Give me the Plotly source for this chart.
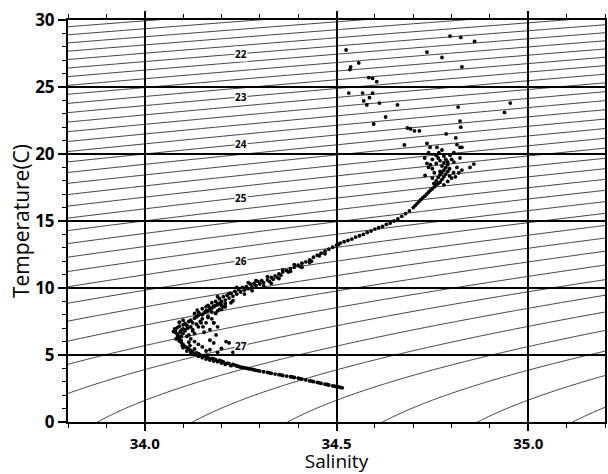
import numpy as np
import plotly.graph_objects as go

# ---------------- data ----------------
deep_s = [34.515, 34.51, 34.505, 34.50, 34.495, 34.49, 34.48, 34.475, 34.47, 34.46,
          34.455, 34.45, 34.44, 34.435, 34.43, 34.42, 34.41, 34.405, 34.40, 34.39,
          34.385, 34.38, 34.37, 34.36, 34.355, 34.35, 34.34, 34.33, 34.325, 34.32,
          34.31, 34.30, 34.295, 34.29, 34.285, 34.28, 34.275, 34.27, 34.265, 34.26,
          34.255, 34.25, 34.245, 34.24]
deep_t = [2.55, 2.58, 2.62, 2.63, 2.68, 2.70, 2.76, 2.80, 2.82, 2.88,
          2.92, 2.95, 3.01, 3.05, 3.07, 3.14, 3.20, 3.24, 3.28, 3.32,
          3.36, 3.38, 3.43, 3.47, 3.52, 3.53, 3.58, 3.63, 3.67, 3.70,
          3.75, 3.80, 3.84, 3.86, 3.90, 3.93, 3.97, 3.98, 4.02, 4.04,
          4.08, 4.10, 4.14, 4.18]

bend_s = [34.235, 34.23, 34.225, 34.22, 34.215, 34.21, 34.205, 34.20, 34.20, 34.195,
          34.19, 34.185, 34.18, 34.18, 34.175, 34.17, 34.165, 34.16, 34.16, 34.155,
          34.15, 34.145, 34.14, 34.14, 34.135, 34.13, 34.125, 34.12, 34.12, 34.115,
          34.11, 34.11, 34.105, 34.10, 34.10, 34.095, 34.095, 34.09, 34.09, 34.088,
          34.085, 34.085, 34.08, 34.08, 34.078, 34.085, 34.09, 34.095, 34.10, 34.10,
          34.105, 34.11, 34.11, 34.115, 34.12, 34.12, 34.125, 34.13, 34.13, 34.135,
          34.14, 34.14, 34.145, 34.15, 34.15, 34.155, 34.16, 34.16, 34.165, 34.17,
          34.17, 34.175, 34.18, 34.18, 34.185, 34.19, 34.19, 34.195, 34.20, 34.20,
          34.18, 34.186, 34.212, 34.22, 34.18, 34.155, 34.147, 34.137, 34.16, 34.19,
          34.17, 34.13, 34.14, 34.125, 34.20, 34.23, 34.16, 34.17, 34.105, 34.115,
          34.095, 34.10, 34.12, 34.13, 34.15, 34.165, 34.175, 34.19, 34.21, 34.225,
          34.075, 34.082, 34.092, 34.098, 34.105, 34.112, 34.118, 34.125, 34.135, 34.145,
          34.152, 34.165, 34.175, 34.185, 34.195, 34.205, 34.09, 34.10, 34.115, 34.13]
bend_t = [4.25, 4.30, 4.20, 4.35, 4.40, 4.30, 4.48, 4.55, 4.40, 4.60,
          4.50, 4.65, 4.70, 4.55, 4.75, 4.62, 4.82, 4.90, 4.70, 4.95,
          4.80, 5.00, 5.10, 4.90, 5.15, 5.05, 5.25, 5.35, 5.15, 5.45,
          5.55, 5.30, 5.65, 5.80, 5.55, 5.95, 6.10, 6.25, 6.05, 6.40,
          6.55, 6.30, 6.70, 6.85, 6.95, 7.05, 7.15, 6.85, 7.25, 6.60,
          7.35, 7.20, 6.40, 7.50, 7.60, 6.20, 7.40, 7.75, 6.00, 7.85,
          7.95, 5.80, 8.05, 7.70, 5.60, 8.15, 8.25, 7.40, 8.30, 8.40,
          5.40, 8.50, 8.60, 7.40, 8.70, 8.75, 5.20, 8.85, 8.95, 8.40,
          7.40, 6.50, 6.00, 5.90, 5.90, 6.70, 7.40, 8.35, 8.60, 7.10,
          6.90, 6.60, 7.10, 6.90, 5.50, 5.20, 5.30, 6.10, 6.80, 6.50,
          6.40, 7.60, 7.10, 8.10, 8.00, 7.90, 8.20, 8.30, 8.60, 8.90,
          6.75, 6.20, 6.70, 5.70, 6.90, 7.00, 5.70, 6.80, 7.30, 7.50,
          7.10, 7.80, 7.70, 8.10, 8.40, 8.60, 7.45, 6.95, 5.95, 5.45]

upper_s = [34.14, 34.15, 34.16, 34.165, 34.17, 34.175, 34.18, 34.185, 34.19, 34.195,
           34.20, 34.205, 34.21, 34.215, 34.22, 34.225, 34.23, 34.235, 34.24, 34.245,
           34.25, 34.255, 34.26, 34.265, 34.27, 34.275, 34.28, 34.285, 34.29, 34.295,
           34.30, 34.305, 34.31, 34.32, 34.325, 34.33, 34.335, 34.34, 34.345, 34.35,
           34.355, 34.36, 34.37, 34.375, 34.38, 34.39, 34.40, 34.405, 34.41, 34.42,
           34.43, 34.435, 34.44, 34.45, 34.455, 34.46, 34.47, 34.48, 34.49, 34.50,
           34.505, 34.51, 34.52, 34.53, 34.54, 34.55, 34.56, 34.57, 34.58, 34.59,
           34.60, 34.61, 34.62, 34.63, 34.64, 34.65, 34.66, 34.67, 34.68, 34.69,
           34.70, 34.705, 34.71, 34.715, 34.72, 34.725, 34.73, 34.735, 34.74, 34.745,
           34.75, 34.755, 34.76,
           34.19, 34.21, 34.23, 34.24, 34.26, 34.28, 34.29, 34.31, 34.33, 34.35,
           34.36, 34.38, 34.39, 34.41, 34.43, 34.47, 34.20, 34.22, 34.27, 34.32]
upper_t = [8.20, 8.45, 8.30, 8.70, 8.55, 8.90, 8.65, 9.00, 8.80, 9.20,
           9.00, 9.35, 9.10, 9.45, 9.25, 9.60, 9.40, 9.75, 9.55, 9.90,
           9.70, 10.05, 9.85, 10.10, 9.95, 10.30, 10.10, 10.35, 10.20, 10.50,
           10.30, 10.55, 10.40, 10.60, 10.50, 10.80, 10.65, 10.90, 10.80, 11.05,
           10.95, 11.20, 11.30, 11.20, 11.45, 11.55, 11.70, 11.60, 11.85, 11.95,
           12.10, 12.00, 12.30, 12.45, 12.40, 12.60, 12.75, 12.90, 13.05, 13.20,
           13.25, 13.35, 13.45, 13.55, 13.65, 13.80, 13.90, 14.00, 14.15, 14.25,
           14.40, 14.50, 14.60, 14.75, 14.85, 15.00, 15.15, 15.35, 15.55, 15.75,
           16.00, 16.15, 16.30, 16.45, 16.60, 16.75, 16.85, 17.00, 17.15, 17.30,
           17.40, 17.55, 17.70,
           9.35, 8.85, 9.05, 10.05, 9.55, 9.80, 10.55, 10.15, 10.35, 10.70,
           11.35, 11.25, 11.75, 11.55, 11.90, 12.55, 8.70, 9.60, 10.40, 10.85]

cluster_s = [34.765, 34.77, 34.76, 34.775, 34.765, 34.78, 34.77, 34.785, 34.775, 34.79,
             34.78, 34.795, 34.785, 34.775, 34.79, 34.78, 34.77, 34.785, 34.765, 34.78,
             34.755, 34.75, 34.745, 34.74, 34.736, 34.731, 34.754, 34.80, 34.805, 34.806,
             34.814, 34.822, 34.827, 34.819, 34.81, 34.848, 34.858, 34.736, 34.744, 34.762,
             34.767, 34.814, 34.822, 34.796, 34.806, 34.75, 34.76, 34.79, 34.77, 34.795,
             34.79, 34.78, 34.75, 34.76, 34.80, 34.775, 34.73, 34.74]
cluster_t = [17.8, 17.9, 18.0, 18.1, 18.25, 18.3, 18.45, 18.5, 18.6, 18.7,
             18.8, 18.9, 19.0, 19.1, 19.2, 19.35, 19.5, 19.6, 19.7, 19.85,
             18.6, 18.9, 19.2, 19.0, 19.3, 18.4, 17.8, 18.2, 18.6, 19.4,
             19.0, 19.7, 18.8, 18.6, 18.3, 19.0, 19.25, 20.8, 20.5, 20.5,
             20.1, 20.7, 20.5, 19.9, 20.1, 19.6, 19.9, 19.4, 18.7, 18.35,
             17.95, 17.7, 18.2, 19.3, 19.6, 20.3, 19.7, 20.1]

surface_s = [34.525, 34.537, 34.535, 34.558, 34.584, 34.594, 34.605, 34.736, 34.775, 34.796,
             34.824, 34.860, 34.827, 34.532, 34.568, 34.594, 34.586, 34.571, 34.579, 34.612,
             34.659, 34.628, 34.597, 34.685, 34.693, 34.703, 34.716, 34.786, 34.677, 34.817,
             34.822, 34.824, 34.811, 34.827, 34.938, 34.953]
surface_t = [27.76, 26.5, 26.3, 26.8, 25.7, 25.65, 25.4, 27.6, 27.2, 28.8,
             28.7, 28.4, 26.5, 24.55, 24.55, 24.55, 24.2, 23.96, 23.66, 23.8,
             23.66, 22.76, 22.24, 21.94, 21.87, 21.72, 21.72, 21.5, 20.67, 23.5,
             22.46, 22.0, 21.2, 20.5, 23.1, 23.8]

x_ticks = [34.0, 34.5, 35.0]
x_ticktext = ["34.0", "34.5", "35.0"]
y_ticks = [0, 5, 10, 15, 20, 25, 30]
sigma_labels = [22, 23, 24, 25, 26, 27]

# ---------------- sigma-t background (UNESCO EOS-80, p = 0) ----------------
def sigma_t(S, T):
    rw = (999.842594 + 6.793952e-2 * T - 9.095290e-3 * T**2 + 1.001685e-4 * T**3
          - 1.120083e-6 * T**4 + 6.536332e-9 * T**5)
    A = 0.824493 - 4.0899e-3 * T + 7.6438e-5 * T**2 - 8.2467e-7 * T**3 + 5.3875e-9 * T**4
    B = -5.72466e-3 + 1.0227e-4 * T - 1.6546e-6 * T**2
    C = 4.8314e-4
    return rw + A * S + B * S**1.5 + C * S**2 - 1000.0

sg = np.linspace(33.7, 35.3, 161)
tg = np.linspace(-0.5, 30.5, 311)
SS, TT = np.meshgrid(sg, tg)
Z = sigma_t(SS, TT)

fig = go.Figure()
fig.add_trace(go.Contour(
    x=sg, y=tg, z=Z, autocontour=False,
    contours=dict(start=20.0, end=29.0, size=0.2, coloring="lines"),
    colorscale=[[0, "black"], [1, "black"]],
    line=dict(width=0.75),
    showscale=False, hoverinfo="skip",
))

all_s = deep_s + bend_s + upper_s + cluster_s + surface_s
all_t = deep_t + bend_t + upper_t + cluster_t + surface_t
fig.add_trace(go.Scatter(
    x=all_s, y=all_t, mode="markers",
    marker=dict(color="black", size=3.8),
    hoverinfo="skip",
))

# labels for integer sigma-t lines, placed on the line at S = 34.25
label_s = 34.25
t_line = np.linspace(4.5, 30, 2000)
sig_line = sigma_t(label_s, t_line)
for k in sigma_labels:
    tk = float(np.interp(k, sig_line[::-1], t_line[::-1]))
    fig.add_annotation(x=label_s, y=tk, text=str(k), showarrow=False,
                       font=dict(family="Open Sans", size=10, color="black", weight="bold"),
                       bgcolor="white", borderpad=0)

font_family = "Open Sans"
fig.update_layout(
    width=608, height=474,
    margin=dict(l=68, r=1, t=20, b=52),
    plot_bgcolor="white", paper_bgcolor="white",
    showlegend=False,
    font=dict(family=font_family, color="black"),
)
fig.update_xaxes(
    range=[33.8, 35.2], tickvals=x_ticks, ticktext=x_ticktext,
    ticks="outside", ticklen=7, tickwidth=2, tickcolor="black",
    showgrid=True, gridcolor="black", gridwidth=2,
    showline=True, linecolor="black", linewidth=2, mirror="ticks",
    zeroline=False,
    minor=dict(dtick=0.1, tick0=33.8, ticks="outside", ticklen=4, tickwidth=1,
               tickcolor="black", showgrid=False),
    tickfont=dict(size=15, weight="bold"),
    title=dict(text="Salinity", font=dict(size=19, weight=500), standoff=6),
)
fig.update_yaxes(
    range=[0, 30], tickvals=y_ticks,
    ticks="outside", ticklen=8, tickwidth=2, tickcolor="black",
    showgrid=True, gridcolor="black", gridwidth=2,
    showline=True, linecolor="black", linewidth=2, mirror=True,
    zeroline=False,
    minor=dict(dtick=1, ticks="outside", ticklen=4, tickwidth=1,
               tickcolor="black", showgrid=False),
    tickfont=dict(size=17, weight="bold"),
    title=dict(text="Temperature(C)", font=dict(size=21, weight=500), standoff=0),
)

fig.write_html("out.html", config={"displayModeBar": False},
               post_script="document.body.style.margin='0';document.body.style.overflow='hidden';")
